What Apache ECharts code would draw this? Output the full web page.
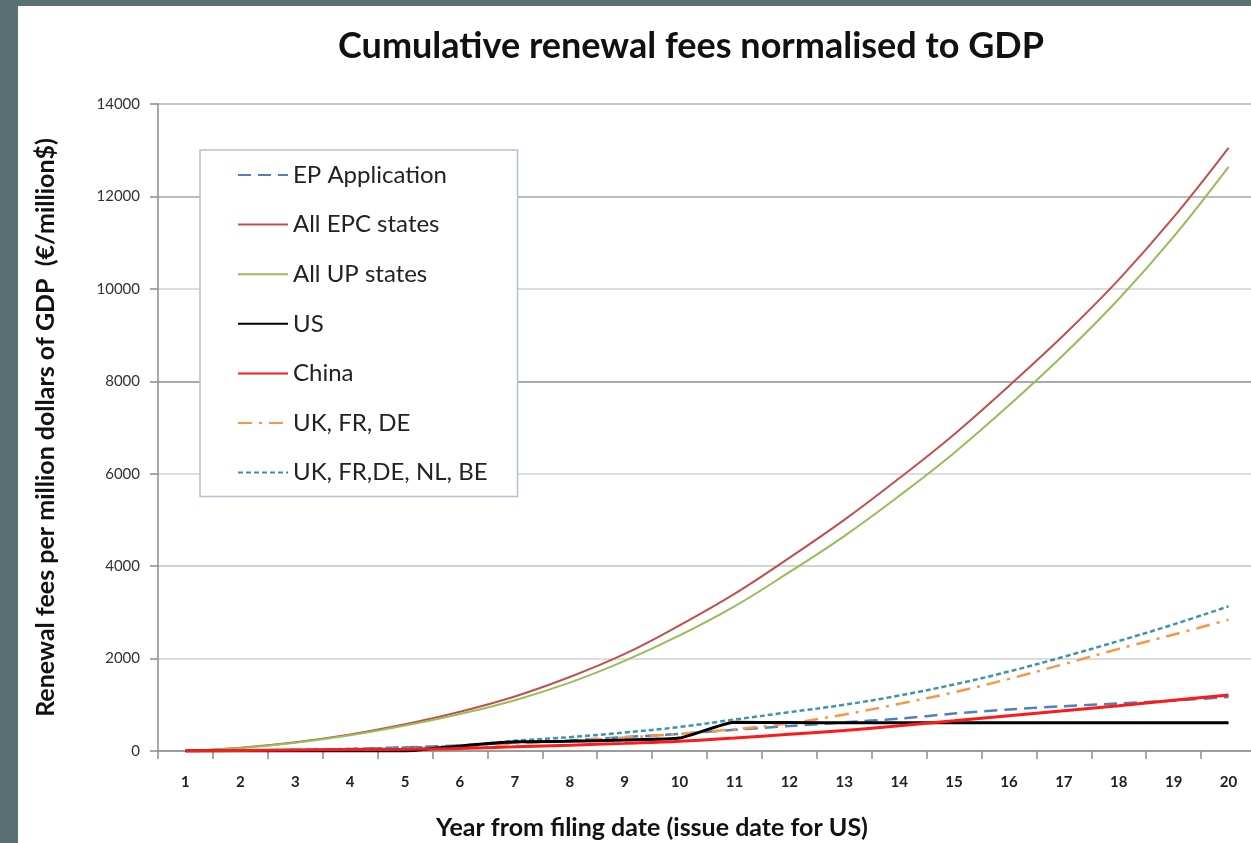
<!DOCTYPE html>
<html>
<head>
<meta charset="utf-8">
<script src="https://cdn.jsdelivr.net/npm/echarts@6/dist/echarts.min.js"></script>
<style>
  html, body { margin: 0; padding: 0; background: #5b7073; }
  #chart { width: 1251px; height: 843px; }
</style>
</head>
<body>
<div id="chart"></div>
<script>
const years = ['1','2','3','4','5','6','7','8','9','10','11','12','13','14','15','16','17','18','19','20'];
const yTicks = [0, 2000, 4000, 6000, 8000, 10000, 12000, 14000];

const epApplication = [0, 10, 25, 45, 80, 120, 180, 230, 300, 370, 460, 540, 620, 700, 810, 900, 970, 1030, 1090, 1170];
const allEPC = [0, 70, 190, 360, 580, 850, 1180, 1600, 2100, 2720, 3400, 4180, 5000, 5900, 6850, 7900, 9000, 10200, 11550, 13050];
const allUP = [0, 65, 180, 340, 550, 800, 1100, 1480, 1950, 2500, 3130, 3870, 4650, 5520, 6450, 7480, 8580, 9780, 11130, 12640];
const us = [0, 0, 0, 0, 0, 110, 200, 210, 240, 280, 620, 615, 610, 610, 610, 610, 610, 610, 610, 610];
const china = [0, 10, 20, 30, 40, 55, 90, 125, 165, 210, 280, 360, 445, 548, 655, 765, 873, 981, 1097, 1212];
const ukFrDe = [0, 10, 20, 35, 60, 90, 160, 220, 290, 370, 470, 600, 790, 1020, 1270, 1560, 1880, 2210, 2520, 2840];
const ukFrDeNlBe = [0, 10, 25, 45, 75, 110, 220, 300, 400, 520, 680, 840, 1000, 1200, 1440, 1720, 2040, 2380, 2740, 3130];

const FONT = 'Lato';
const chart = echarts.init(document.getElementById('chart'), null, { renderer: 'canvas' });

function line(name, data, color, width, type, smooth, z) {
  return {
    name, type: 'line', data, symbol: 'none', smooth: smooth, z: z,
    lineStyle: { color, width, type },
    itemStyle: { color },
    emphasis: { disabled: true }
  };
}

chart.setOption({
  backgroundColor: '#ffffff',
  animation: false,
  title: {
    text: 'Cumulative renewal fees normalised to GDP',
    left: 686, top: 23, textAlign: 'center',
    textStyle: { fontFamily: FONT, fontWeight: 'bold', fontSize: 36, color: '#111' }
  },
  grid: { left: 158, top: 104, height: 647, width: 1098, containLabel: false, outerBoundsMode: 'none' },
  legend: {
    orient: 'vertical', left: 200, top: 150,
    padding: [13, 30, 12, 37],
    backgroundColor: '#ffffff', borderColor: '#b1c0d6', borderWidth: 1.5, borderRadius: 0,
    itemWidth: 50, itemHeight: 14, itemGap: 25.6,
    itemStyle: { opacity: 0 },
    textStyle: { fontFamily: FONT, fontSize: 24, color: '#222' },
    data: ['EP Application', 'All EPC states', 'All UP states', 'US', 'China', 'UK, FR, DE', 'UK, FR,DE, NL, BE']
  },
  xAxis: {
    type: 'category', data: years, boundaryGap: true,
    axisLine: { lineStyle: { color: '#8c8c8c', width: 1.5 } },
    axisTick: { show: true, length: 8, lineStyle: { color: '#8c8c8c', width: 1.5 } },
    axisLabel: { margin: 24, fontFamily: FONT, fontWeight: 'bold', fontSize: 15, color: '#222' },
    splitLine: { show: false }
  },
  yAxis: {
    type: 'value', min: 0, max: 14000, interval: 2000,
    name: 'Renewal fees per million dollars of GDP  (€/million$)', nameLocation: 'middle', nameGap: 100,
    nameTextStyle: { fontFamily: FONT, fontWeight: 'bold', fontSize: 25, color: '#111' },
    axisLine: { show: true, lineStyle: { color: '#8c8c8c', width: 1.5 } },
    axisTick: { show: true, length: 8, lineStyle: { color: '#8c8c8c', width: 1.5 } },
    axisLabel: {
      margin: 18, fontFamily: FONT, fontSize: 15, color: '#333',
      formatter: v => yTicks.indexOf(v) >= 0 ? String(v) : ''
    },
    splitLine: { show: true, lineStyle: { width: 1.5, color: ['#bdbdbd', '#d2d2d2', '#c4c4c4', '#d2d2d2', '#8e8e8e', '#d2d2d2', '#a6a6a6', '#b4b4b4'] } }
  },
  graphic: [
    { type: 'rect', left: 0, top: 0, z: 100, shape: { width: 18, height: 843 }, style: { fill: '#5b7073' } },
    { type: 'rect', left: 0, top: 0, z: 100, shape: { width: 1251, height: 6 }, style: { fill: '#5b7073' } },
    { type: 'text', x: 652, y: 828, z: 50,
      style: { text: 'Year from filing date (issue date for US)', align: 'center', verticalAlign: 'middle',
               font: 'bold 25px Lato', fill: '#111' } }
  ],
  series: [
    line('EP Application', epApplication, '#4f81bd', 2.5, [13, 7], 0.3, 2),
    line('All EPC states', allEPC, '#c0504d', 2, 'solid', 0.4, 2),
    line('All UP states', allUP, '#9bbb59', 2, 'solid', 0.4, 2),
    line('US', us, '#000000', 3, 'solid', 0.15, 3),
    line('China', china, '#ff1a1a', 3, 'solid', 0.4, 4),
    line('UK, FR, DE', ukFrDe, '#f79646', 2.5, [14, 7, 3, 7], 0.4, 2),
    line('UK, FR,DE, NL, BE', ukFrDeNlBe, '#3e95ab', 2.5, [5, 3], 0.4, 2)
  ]
});
</script>
</body>
</html>
